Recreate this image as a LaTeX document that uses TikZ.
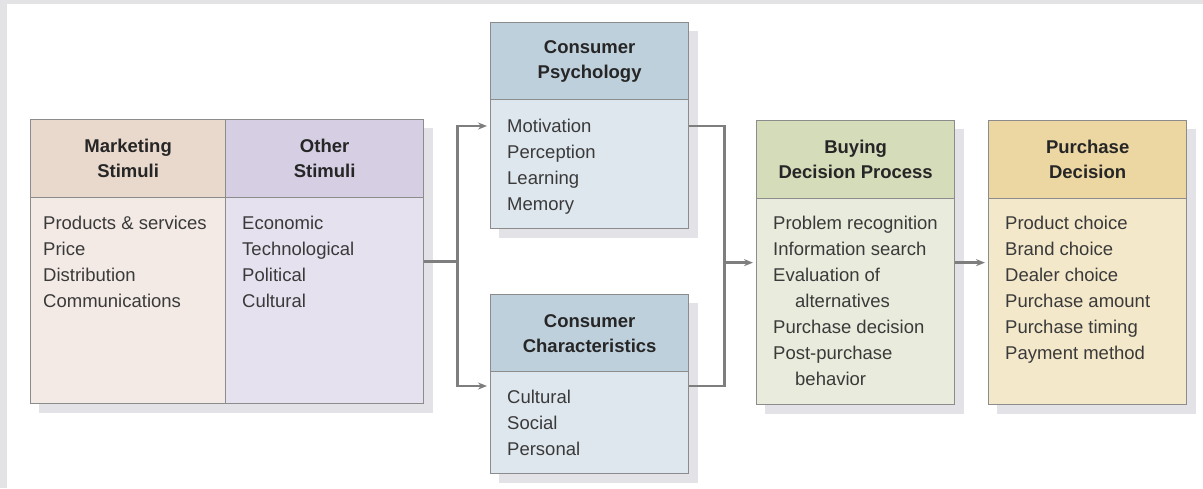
\documentclass[tikz,border=0pt]{standalone}
\usepackage{fontspec}
\setmainfont{Liberation Sans}
\usetikzlibrary{arrows.meta,calc,backgrounds}
\definecolor{framegray}{HTML}{E3E3E6}
\definecolor{shadowgray}{HTML}{E2E2E7}
\definecolor{boxline}{HTML}{8C8C8C}
\definecolor{connline}{HTML}{7E7E7E}
\definecolor{hdrtext}{HTML}{262626}
\definecolor{bodytext}{HTML}{3A3A3A}
\definecolor{mkhead}{HTML}{E9D9CD}
\definecolor{mkbody}{HTML}{F3EAE5}
\definecolor{othead}{HTML}{D6CEE3}
\definecolor{otbody}{HTML}{E6E1EF}
\definecolor{pshead}{HTML}{BFD0DD}
\definecolor{psbody}{HTML}{DFE7EE}
\definecolor{bdhead}{HTML}{D5DCBA}
\definecolor{bdbody}{HTML}{E9ECDC}
\definecolor{pdhead}{HTML}{ECD7A3}
\definecolor{pdbody}{HTML}{F4E8CA}
\tikzset{
  boxpart/.style={draw=boxline, line width=1.3pt, anchor=north west, inner sep=0pt, minimum width=198pt},
  hdr/.style={boxpart, minimum height=78pt, align=center, text=hdrtext,
    font=\fontsize{18.5}{25}\selectfont\bfseries},
  bodybox/.style={boxpart},
  bodytxt/.style={anchor=north west, inner sep=0pt, align=left, text=bodytext,
    font=\fontsize{18.5}{26}\selectfont},
  conn/.style={draw=connline, line width=2.4pt},
  arr/.style={conn, -{Stealth[length=9pt,width=7pt]}, shorten >=3pt},
  shadowbox/.style={fill=shadowgray}
}
\begin{document}
\begin{tikzpicture}[x=1pt,y=-1pt]
\useasboundingbox (0,0) rectangle (1203,488);

% Marketing & Other stimuli
\node[hdr, fill=mkhead, minimum width=195pt] (mkh) at (30,119) {Marketing\\Stimuli};
\node[bodybox, fill=mkbody, minimum width=195pt, minimum height=206pt] (mkb) at (30,197) {};
\node[hdr, fill=othead] (oth) at (225,119) {Other\\Stimuli};
\node[bodybox, fill=otbody, minimum height=206pt] (otb) at (225,197) {};
\node[bodytxt] (mkt) at (43,216) {Products \& services\\Price\\Distribution\\Communications};
\node[bodytxt] (ott) at (242,216) {Economic\\Technological\\Political\\Cultural};

% Consumer psychology
\node[hdr, fill=pshead, minimum height=77pt] (psh) at (490,22) {Consumer\\Psychology};
\node[bodybox, fill=psbody, minimum height=129pt] (psb) at (490,99) {};
\node[bodytxt] (pst) at (507,119) {Motivation\\Perception\\Learning\\Memory};

% Consumer characteristics
\node[hdr, fill=pshead, minimum height=77pt] (csh) at (490,294) {Consumer\\Characteristics};
\node[bodybox, fill=psbody, minimum height=102pt] (csb) at (490,371) {};
\node[bodytxt] (cst) at (507,390) {Cultural\\Social\\Personal};

% Buying decision process
\node[hdr, fill=bdhead] (bdh) at (756,120) {Buying\\Decision Process};
\node[bodybox, fill=bdbody, minimum height=206pt] (bdb) at (756,198) {};
\node[bodytxt] (bdt) at (773,216) {Problem recognition\\Information search\\Evaluation of\\\hspace*{22pt}alternatives\\Purchase decision\\Post-purchase\\\hspace*{22pt}behavior};

% Purchase decision
\node[hdr, fill=pdhead] (pdh) at (988,120) {Purchase\\Decision};
\node[bodybox, fill=pdbody, minimum height=206pt] (pdb) at (988,198) {};
\node[bodytxt] (pdt) at (1005,216) {Product choice\\Brand choice\\Dealer choice\\Purchase amount\\Purchase timing\\Payment method};

% background, frame and shadows
\begin{scope}[on background layer]
\fill[white] (0,0) rectangle (1203,488);
\fill[framegray] (0,0) rectangle (1203,4);
\fill[framegray] (0,0) rectangle (7,488);
\fill[shadowbox] ($(mkh.north west)+(9,9)$) rectangle ($(otb.south east)+(9,9)$);
\fill[shadowbox] ($(psh.north west)+(9,9)$) rectangle ($(psb.south east)+(9,9)$);
\fill[shadowbox] ($(csh.north west)+(9,9)$) rectangle ($(csb.south east)+(9,9)$);
\fill[shadowbox] ($(bdh.north west)+(9,9)$) rectangle ($(bdb.south east)+(9,9)$);
\fill[shadowbox] ($(pdh.north west)+(9,9)$) rectangle ($(pdb.south east)+(9,9)$);
\end{scope}

% connectors
\coordinate (stimE) at ($(oth.north east)!0.5!(otb.south east)$);
\coordinate (j1) at ($(stimE)+(33,0)$);
\coordinate (psIn) at ($(psb.north west)+(0,27)$);
\coordinate (csIn) at ($(csb.north west)+(0,15)$);
\coordinate (psOut) at ($(psb.north east)+(0,27)$);
\coordinate (csOut) at ($(csb.north east)+(0,15)$);
\coordinate (bdIn) at ($(bdh.north west)!0.5!(bdb.south west)$);
\coordinate (bdOut) at ($(bdh.north east)!0.5!(bdb.south east)$);
\coordinate (pdIn) at ($(pdh.north west)!0.5!(pdb.south west)$);
\coordinate (j2) at ($(psOut)+(35,0)$);
\coordinate (j3) at (j2 |- bdIn);

\draw[conn] (stimE) -- (j1);
\draw[arr] (j1) |- (psIn);
\draw[arr] (j1) |- (csIn);
\draw[conn] (psOut) -| (j2) -- (j2 |- csOut) -- (csOut);
\draw[arr] (j3) -- (bdIn);
\draw[arr] (bdOut) -- (pdIn);
\end{tikzpicture}
\end{document}
